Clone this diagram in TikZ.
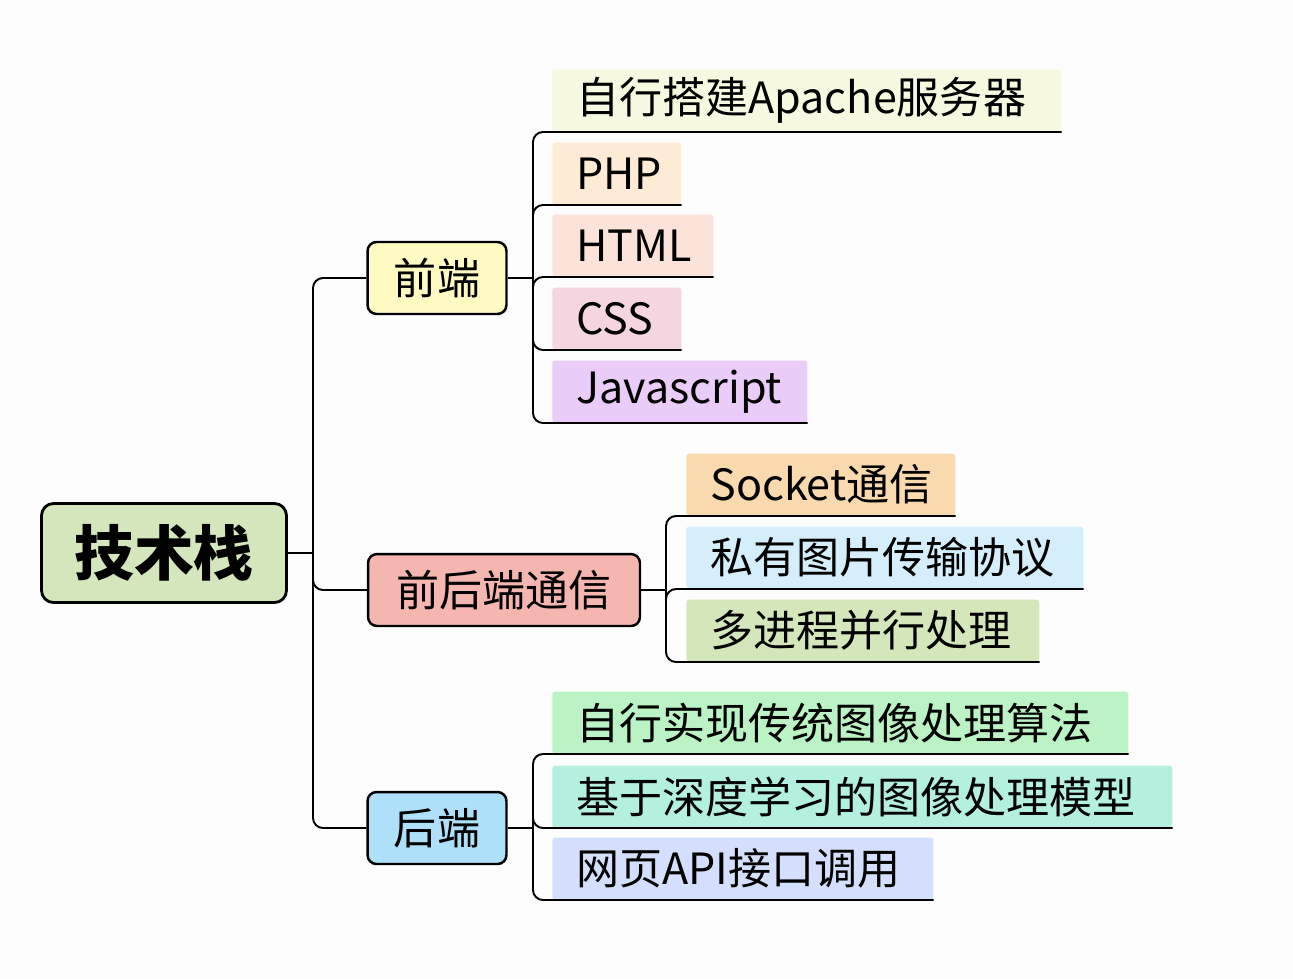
\documentclass[tikz,border=0pt]{standalone}
\usepackage{fontspec}
\setmainfont{Noto Sans CJK SC}
\usepackage{tikz}
\usetikzlibrary{positioning}

\definecolor{bgcol}{HTML}{FDFDFD}
\definecolor{rootfill}{HTML}{D4E7BC}
\definecolor{fefill}{HTML}{FFFAC2}
\definecolor{comfill}{HTML}{F4B6AF}
\definecolor{befill}{HTML}{AEE1F9}
\definecolor{apachefill}{HTML}{F6F9DF}
\definecolor{phpfill}{HTML}{FDEBD6}
\definecolor{htmlfill}{HTML}{FBE3DA}
\definecolor{cssfill}{HTML}{F5D5E0}
\definecolor{jsfill}{HTML}{E9CCF7}
\definecolor{socketfill}{HTML}{F9D9AE}
\definecolor{protofill}{HTML}{D4EEFC}
\definecolor{procfill}{HTML}{D4E7BB}
\definecolor{algofill}{HTML}{BCF3C5}
\definecolor{modelfill}{HTML}{B3F0DF}
\definecolor{apifill}{HTML}{D3DFFC}

\begin{document}
\begin{tikzpicture}[
    x=0.02cm, y=-0.02cm,
    root/.style={rectangle, draw, line width=1.6pt, rounded corners=0.24cm,
      minimum width=4.9cm, minimum height=1.98cm, inner sep=0pt,
      font=\fontsize{34pt}{40pt}\selectfont\bfseries},
    topic/.style={rectangle, draw, line width=1.4pt, rounded corners=0.18cm,
      minimum height=1.44cm, inner sep=0pt,
      font=\fontsize{24.5pt}{30pt}\selectfont},
    leaf/.style={rectangle, anchor=south west, rounded corners=1.5pt,
      minimum height=1.24cm, inner xsep=0.48cm, inner ysep=0pt, align=left,
      font=\fontsize{24.5pt}{30pt}\selectfont},
    link/.style={line width=1.1pt, rounded corners=0.2cm}
  ]
  \fill[bgcol] (0,0) rectangle (1293,978);
  \useasboundingbox (0,0) rectangle (1293,978);

  % main topics
  \node[root, fill=rootfill] (root) at (164,553) {技术栈};
  \node[topic, fill=fefill, minimum width=2.78cm]   (fe)  at (437,278) {前端};
  \node[topic, fill=comfill, minimum width=5.44cm]  (com) at (504,590) {前后端通信};
  \node[topic, fill=befill, minimum width=2.78cm]   (be)  at (437,828) {后端};

  \coordinate (trunk)   at (313,553);
  \coordinate (fejoin)  at (533,278);
  \coordinate (comjoin) at (666,590);
  \coordinate (bejoin)  at (533,828);

  % front end
  \node[leaf, fill=apachefill, text width=9.22cm] (apache) at (552,132) {自行搭建Apache服务器};
  \node[leaf, fill=phpfill,    text width=1.62cm] (php)    at (552,205) {PHP};
  \node[leaf, fill=htmlfill,   text width=2.26cm] (html)   at (552,277) {HTML};
  \node[leaf, fill=cssfill,    text width=1.62cm] (css)    at (552,350) {CSS};
  \node[leaf, fill=jsfill,     text width=4.14cm] (js)     at (552,423) {Javascript};

  % communication
  \node[leaf, fill=socketfill, text width=4.42cm] (socket) at (686,516) {Socket通信};
  \node[leaf, fill=protofill,  text width=6.98cm] (proto)  at (686,589) {私有图片传输协议};
  \node[leaf, fill=procfill,   text width=6.10cm] (proc)   at (686,662) {多进程并行处理};

  % back end
  \node[leaf, fill=algofill,  text width=10.56cm] (algo)  at (552,754) {自行实现传统图像处理算法};
  \node[leaf, fill=modelfill, text width=11.44cm] (model) at (552,828) {基于深度学习的图像处理模型};
  \node[leaf, fill=apifill,   text width=6.66cm]  (api)   at (552,900) {网页API接口调用};

  % connectors
  \draw[link] (root.east) -- (trunk);
  \foreach \t in {fe,com,be}
    \draw[link] (trunk) |- (\t.west);

  \draw[link] (fe.east) -- (fejoin);
  \foreach \c in {apache,php,html,css,js}
    \draw[link] (fejoin) |- (\c.south east);

  \draw[link] (com.east) -- (comjoin);
  \foreach \c in {socket,proto,proc}
    \draw[link] (comjoin) |- (\c.south east);

  \draw[link] (be.east) -- (bejoin);
  \foreach \c in {algo,model,api}
    \draw[link] (bejoin) |- (\c.south east);
\end{tikzpicture}
\end{document}
